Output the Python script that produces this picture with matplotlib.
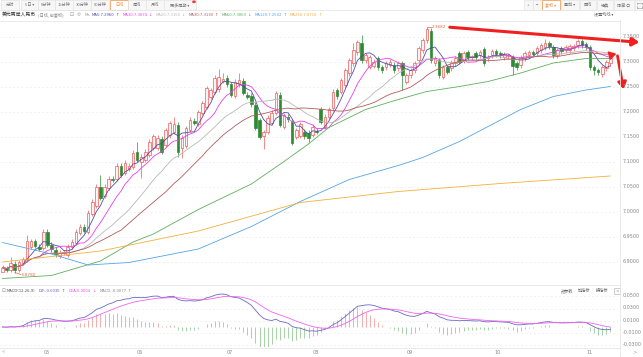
import numpy as np
import pandas as pd
import matplotlib
matplotlib.use('Agg')
import matplotlib.pyplot as plt
from matplotlib.patches import Rectangle, FancyArrowPatch

plt.rcParams['font.family'] = ['Noto Sans CJK SC', 'DejaVu Sans']

# ---------------- data ----------------
opens = [6.880, 6.887, 6.884, 6.896, 6.884, 6.898, 6.905, 6.930, 6.941, 6.930,
         6.928, 6.960, 6.934, 6.924, 6.912, 6.918, 6.914, 6.930, 6.938, 6.958,
         6.970, 6.960, 6.996, 7.012, 7.050, 7.032, 7.048, 7.066, 7.066, 7.092,
         7.078, 7.086, 7.090, 7.120, 7.100, 7.104, 7.114, 7.128, 7.128, 7.146,
         7.134, 7.153, 7.160, 7.174, 7.128, 7.132, 7.164, 7.182, 7.176, 7.198,
         7.210, 7.230, 7.240, 7.245, 7.262, 7.268, 7.255, 7.232, 7.255, 7.262,
         7.234, 7.232, 7.214, 7.183, 7.152, 7.160, 7.178, 7.198, 7.234, 7.170,
         7.190, 7.180, 7.150, 7.152, 7.160, 7.158, 7.154, 7.162, 7.205, 7.170,
         7.190, 7.207, 7.243, 7.240, 7.253, 7.277, 7.297, 7.319, 7.337, 7.303,
         7.290, 7.292, 7.307, 7.289, 7.289, 7.294, 7.294, 7.287, 7.297, 7.260,
         7.273, 7.283, 7.303, 7.323, 7.343, 7.362, 7.297, 7.303, 7.270, 7.289,
         7.287, 7.297, 7.317, 7.303, 7.319, 7.309, 7.317, 7.313, 7.325, 7.307,
         7.313, 7.321, 7.317, 7.309, 7.311, 7.309, 7.297, 7.293, 7.307, 7.313,
         7.319, 7.317, 7.323, 7.329, 7.337, 7.329, 7.313, 7.327, 7.323, 7.323,
         7.327, 7.333, 7.341, 7.335, 7.329, 7.289, 7.283, 7.275, 7.287, 7.297]
closes = [6.888, 6.884, 6.898, 6.883, 6.899, 6.905, 6.940, 6.941, 6.932, 6.926,
          6.960, 6.934, 6.925, 6.915, 6.918, 6.918, 6.930, 6.940, 6.960, 6.970,
          6.962, 6.998, 7.020, 7.050, 7.028, 7.050, 7.066, 7.064, 7.092, 7.074,
          7.098, 7.092, 7.118, 7.104, 7.110, 7.120, 7.140, 7.150, 7.148, 7.120,
          7.163, 7.177, 7.176, 7.120, 7.148, 7.167, 7.184, 7.178, 7.198, 7.217,
          7.247, 7.243, 7.268, 7.270, 7.266, 7.255, 7.234, 7.260, 7.263, 7.238,
          7.230, 7.214, 7.168, 7.150, 7.158, 7.188, 7.198, 7.237, 7.174, 7.193,
          7.185, 7.138, 7.163, 7.175, 7.150, 7.148, 7.170, 7.160, 7.180, 7.190,
          7.205, 7.240, 7.230, 7.263, 7.283, 7.303, 7.323, 7.339, 7.303, 7.313,
          7.309, 7.300, 7.289, 7.283, 7.297, 7.300, 7.283, 7.297, 7.273, 7.273,
          7.283, 7.297, 7.327, 7.343, 7.365, 7.303, 7.307, 7.273, 7.289, 7.280,
          7.299, 7.307, 7.300, 7.317, 7.309, 7.309, 7.309, 7.319, 7.297, 7.309,
          7.321, 7.315, 7.313, 7.315, 7.311, 7.291, 7.289, 7.309, 7.317, 7.319,
          7.315, 7.327, 7.333, 7.337, 7.331, 7.313, 7.323, 7.321, 7.329, 7.331,
          7.331, 7.341, 7.333, 7.329, 7.289, 7.283, 7.279, 7.289, 7.299, 7.307]
# long shadows (others: small wick beyond the body)
hi_fix = {2: 6.910, 6: 6.953, 24: 7.074, 33: 7.140, 42: 7.190, 53: 7.285, 54: 7.277,
          58: 7.277, 86: 7.337, 88: 7.353, 104: 7.3682, 133: 7.345}
lo_fix = {0: 6.8858, 34: 7.068, 43: 7.110, 44: 7.108, 64: 7.126, 75: 7.140,
          98: 7.243, 125: 7.273, 145: 7.273, 147: 7.270}
highs = [hi_fix.get(i, max(o, c) + 0.005) for i, (o, c) in enumerate(zip(opens, closes))]
lows = [lo_fix.get(i, min(o, c) - 0.005) for i, (o, c) in enumerate(zip(opens, closes))]

# long moving averages (candle index, value)
ma60_idx = [0, 12, 24, 32, 37, 48, 61, 69, 75, 80, 89, 97, 104, 112, 119, 127, 135, 143, 149]
ma60_val = [6.866, 6.872, 6.901, 6.939, 6.955, 7.004, 7.055, 7.100, 7.135, 7.168, 7.204,
            7.224, 7.240, 7.250, 7.260, 7.277, 7.297, 7.306, 7.306]
ma120_idx = [0, 12, 21, 31, 48, 61, 73, 85, 97, 103, 112, 127, 135, 143, 149]
ma120_val = [6.938, 6.915, 6.893, 6.898, 6.925, 6.970, 7.020, 7.064, 7.092, 7.108, 7.140,
             7.204, 7.230, 7.243, 7.250]
ma250_idx = [0, 24, 48, 73, 97, 122, 149]
ma250_val = [6.899, 6.921, 6.961, 7.018, 7.040, 7.056, 7.071]

price_ticks = [7.35, 7.30, 7.25, 7.20, 7.15, 7.10, 7.05, 7.00, 6.95, 6.90]
macd_ticks = [0.05, 0.03, 0.01, -0.01, -0.03]
month_labels = ['05', '06', '07', '08', '09', '10', '11']
month_pos = [10.9, 33.7, 55.8, 76.8, 99.9, 121.4, 144.0]

ma_names = ['MA5', 'MA10', 'MA20', 'MA30', 'MA60', 'MA120', 'MA250']
ma_last = ['7.2960', '7.3074', '7.3150', '7.3130', '7.3063', '7.2502', '7.0710']
ma_arrows = ['↑', '↓', '↓', '↑', '↓', '↑', '↑']
ma_colors = ['#4d4daa', '#e83fe8', '#b8b8b8', '#b45a5a', '#5fae5f', '#55a5e5', '#f2b03c']
macd_head = [('DIF:-0.0035', '↑', '#5a5ab8'), ('DEA:0.0004', '↓', '#e84ae8'),
             ('MACD:-0.0077', '↑', '#888888')]

# ---------------- figure ----------------
W, H = 643, 357
fig = plt.figure(figsize=(W / 100, H / 100), dpi=100)
fig.patch.set_facecolor('white')
renderer = fig.canvas.get_renderer()


def fx(x):
    return x / W


def fy(y):
    return 1 - y / H


def px_axes(x0, y0, x1, y1):
    return fig.add_axes([fx(x0), fy(y1), fx(x1 - x0), (y1 - y0) / H])


def put(x, y, s, **kw):
    """place text at pixel x,y (left, centre) and return its right edge in pixels"""
    kw.setdefault('va', 'center')
    t = fig.text(fx(x), fy(y), s, **kw)
    bb = t.get_window_extent(renderer)
    return bb.x1


n = len(closes)
idx = np.arange(n)
XMIN, XMAX = (0 - 2.5) / 4.08, (618 - 2.5) / 4.08

ax = px_axes(0, 21, 618, 282)
ax.set_xlim(XMIN, XMAX)
ax.set_ylim(6.859, 7.381)
ax.axis('off')
for t in price_ticks:
    ax.axhline(t, color='#ececec', lw=0.5, ls=(0, (3, 3)), zorder=0)

o = np.array(opens); c = np.array(closes); h = np.array(highs); l = np.array(lows)
up = c >= o
col_up, col_dn = '#f05a5a', '#2f8a34'
ax.vlines(idx[up], l[up], h[up], color=col_up, lw=0.5, zorder=2)
ax.vlines(idx[~up], l[~up], h[~up], color=col_dn, lw=0.5, zorder=2)
body_up = np.maximum(c[up] - o[up], 0.0012)
ax.bar(idx[up], body_up, bottom=o[up], width=0.64, facecolor='#fff2f2',
       edgecolor=col_up, lw=0.5, zorder=3)
body_dn = np.minimum(c[~up] - o[~up], -0.0012)
ax.bar(idx[~up], body_dn, bottom=o[~up], width=0.64, facecolor=col_dn,
       edgecolor=col_dn, lw=0.5, zorder=3)

cs = pd.Series(closes)
for k, win in enumerate([5, 10, 20, 30]):
    ax.plot(idx, cs.rolling(win, min_periods=1).mean(), color=ma_colors[k], lw=0.6, zorder=4)
ax.plot(ma60_idx, ma60_val, color=ma_colors[4], lw=0.6, zorder=4)
ax.plot(ma120_idx, ma120_val, color=ma_colors[5], lw=0.6, zorder=4)
ax.plot(ma250_idx, ma250_val, color=ma_colors[6], lw=0.6, zorder=4)

# high / low markers
ihi = int(np.argmax(h)); ilo = int(np.argmin(l))
ax.plot([ihi, ihi + 1.2], [h[ihi], h[ihi]], color='#e8674a', lw=0.5, zorder=5)
ax.text(ihi + 1.3, h[ihi], '%.4f' % h[ihi], color='#e8674a', fontsize=3.0, va='center',
        family='DejaVu Sans', zorder=5)
ax.plot([ilo, ilo + 1.5], [l[ilo], l[ilo] - 0.004], color='#e8674a', lw=0.5, zorder=5)
ax.text(ilo + 1.6, l[ilo] - 0.004, '%.4f' % l[ilo], color='#e8674a', fontsize=3.0,
        va='center', family='DejaVu Sans', zorder=5)

# price labels on the right
for t in price_ticks:
    yy = 36.5 + (7.35 - t) / 0.002
    put(623, yy, '%.4f' % t, fontsize=3.5, color='#888888', family='DejaVu Sans')

# ---------------- MACD ----------------
ema12 = cs.ewm(span=12, adjust=False).mean()
ema26 = cs.ewm(span=26, adjust=False).mean()
dif = ema12 - ema26
dea = dif.ewm(span=9, adjust=False).mean()
hist = 2 * (dif - dea)

axm = px_axes(0, 285, 618, 347)
axm.set_xlim(XMIN, XMAX)
axm.set_ylim(-0.0325, 0.0683)
axm.axis('off')
for t in macd_ticks:
    axm.axhline(t, color='#ececec', lw=0.5, ls=(0, (3, 3)), zorder=0)
hv = hist.values
axm.vlines(idx[hv >= 0], 0, hv[hv >= 0], color='#f2a0a0', lw=0.6)
axm.vlines(idx[hv < 0], 0, hv[hv < 0], color='#98cc98', lw=0.6)
axm.plot(idx, dif, color='#6a6ac0', lw=0.6)
axm.plot(idx, dea, color='#f064f0', lw=0.6)
for t in macd_ticks:
    yy = 326.25 - t * 615
    put(623, yy, '%.4f' % t, fontsize=3.5, color='#888888', family='DejaVu Sans')

# ---------------- frame lines ----------------
for yy in [10, 20.5, 285, 347.5]:
    fig.add_artist(plt.Line2D([0, fx(620)], [fy(yy), fy(yy)], color='#e6e6e6', lw=0.6))
fig.add_artist(plt.Line2D([fx(620), fx(620)], [fy(20), fy(357)], color='#e6e6e6', lw=0.6))

# x axis labels
for lab, p in zip(month_labels, month_pos):
    xx = 2.5 + 4.08 * p
    fig.text(fx(xx), fy(352), lab, fontsize=3.5, color='#888888', ha='center', va='center',
             family='DejaVu Sans')
put(2, 352, '«', fontsize=4, color='#aaaaaa', family='DejaVu Sans')
put(632, 352, '>', fontsize=4, color='#aaaaaa', family='DejaVu Sans')

# ---------------- toolbar ----------------
tabs = [('分时', 1, 19), ('5日 ▾', 21, 38), ('5分钟', 38, 55), ('15分钟', 55, 73),
        ('30分钟', 73, 91), ('60分钟', 91, 109), ('日线', 110, 128), ('周线', 128, 146),
        ('月线', 146, 164), ('更多周期 ▾', 164, 196)]
rtabs = [('+', 524, 533), ('−', 533, 542), ('复权 ▾', 542, 560), ('叠加 ▾', 561, 579),
         ('画线', 580, 596), ('经典', 597, 613), ('隐藏 ⇔', 614, 634), ('', 635, 643)]
for lab, a, b in tabs + rtabs:
    sel = lab in ('日线', '复权 ▾')
    fig.add_artist(Rectangle((fx(a), fy(9.5)), fx(b - a), 9 / H, transform=fig.transFigure,
                             facecolor='white' if sel else '#f7f7f7',
                             edgecolor='#f08c3c' if sel else '#e4e4e4', lw=0.5))
    if lab:
        fig.text(fx((a + b) / 2), fy(5), lab, fontsize=3.0, ha='center', va='center',
                 color='#f08c3c' if sel else '#777777')
fig.add_artist(plt.Circle((fx(194), fy(1.8)), 1.2 / W, transform=fig.transFigure,
                          color='#f04040'))
# full-screen icon (corner brackets), drawn as shapes
for (x0, y0, dx, dy) in [(637, 2.5, 1, 1), (641.5, 2.5, -1, 1), (637, 7.5, 1, -1), (641.5, 7.5, -1, -1)]:
    fig.add_artist(plt.Line2D([fx(x0), fx(x0 + 1.5 * dx)], [fy(y0), fy(y0)], color='#888888', lw=0.4))
    fig.add_artist(plt.Line2D([fx(x0), fx(x0)], [fy(y0), fy(y0 + 1.5 * dy)], color='#888888', lw=0.4))

# header row
put(2, 14.5, '美元离岸人民币', fontsize=3.5, color='#333333')
put(38, 14.5, '(日线, 前复权)', fontsize=3.0, color='#888888')
put(70, 14.5, '⊡', fontsize=3.4, color='#999999', family='DejaVu Sans')
put(77, 14.5, '◎', fontsize=3.2, color='#999999', family='DejaVu Sans')
put(85, 14.5, 'Ma', fontsize=2.7, color='#999999', family='DejaVu Sans')
xcur = 92
for k in range(7):
    xe = put(xcur, 14.5, '%s:%s' % (ma_names[k], ma_last[k]), fontsize=2.7,
             color=ma_colors[k], family='DejaVu Sans')
    xe = put(xe + 1.0, 14.5, ma_arrows[k], fontsize=3.0, color=ma_colors[k],
             family='DejaVu Sans')
    xcur = xe + 3.5
put(594, 14.5, '设置均线 ▾', fontsize=3.0, color='#666666')

# MACD header
put(2, 291, '⊡', fontsize=3.4, color='#999999', family='DejaVu Sans')
xcur = put(7, 291, 'MACD(12,26,9)', fontsize=2.7, color='#555555', family='DejaVu Sans') + 3
for s, a, colr in macd_head:
    xe = put(xcur, 291, s, fontsize=2.7, color=colr, family='DejaVu Sans')
    xe = put(xe + 1.0, 291, a, fontsize=3.0, color=colr, family='DejaVu Sans')
    xcur = xe + 4
for lab, xx in [('改参数', 561), ('加指标', 578), ('换指标', 596)]:
    put(xx, 291, lab, fontsize=3.0, color='#666666')
fig.add_artist(Rectangle((fx(614), fy(294)), fx(6), 6 / H, transform=fig.transFigure,
                         facecolor='white', edgecolor='#bbbbbb', lw=0.5))
fig.text(fx(617), fy(291), '×', fontsize=3.0, va='center', ha='center', color='#888888',
         family='DejaVu Sans')

# ---------------- hand-drawn red arrows ----------------
fig.add_artist(FancyArrowPatch((fx(447), fy(27)), (fx(642), fy(42.5)),
                               transform=fig.transFigure, arrowstyle='-|>,head_length=4,head_width=2.5',
                               color='#f02020', lw=2.2, mutation_scale=1))
fig.add_artist(FancyArrowPatch((fx(608), fy(56)), (fx(619), fy(53)),
                               transform=fig.transFigure, arrowstyle='-|>,head_length=4,head_width=2.5',
                               color='#f02020', lw=1.2, mutation_scale=1))
fig.add_artist(FancyArrowPatch((fx(617), fy(53)), (fx(624), fy(92)),
                               transform=fig.transFigure, arrowstyle='-|>,head_length=4,head_width=2.5',
                               color='#f02020', lw=2.0, mutation_scale=1))

fig.savefig('out.png', dpi=100, facecolor='white')
